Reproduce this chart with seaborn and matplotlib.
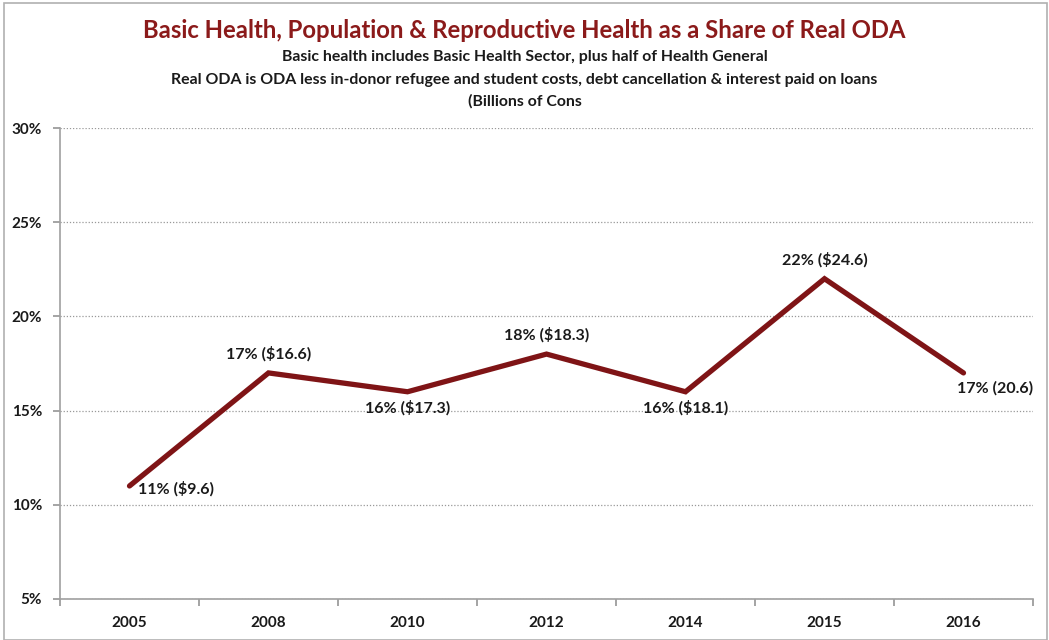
import matplotlib
matplotlib.use("Agg")
import matplotlib.pyplot as plt
import seaborn as sns
import pandas as pd
from matplotlib.patches import Rectangle

years = ["2005", "2008", "2010", "2012", "2014", "2015", "2016"]
share = [11, 17, 16, 18, 16, 22, 17]
labels = ["11% ($9.6)", "17% ($16.6)", "16% ($17.3)", "18% ($18.3)",
          "16% ($18.1)", "22% ($24.6)", "17% (20.6)"]
yticks = [5, 10, 15, 20, 25, 30]

sns.set_theme(style="white")
plt.rcParams["font.family"] = ["Lato", "DejaVu Sans"]
plt.rcParams["font.weight"] = "bold"

fig = plt.figure(figsize=(10.49, 6.40), dpi=100)
ax = fig.add_axes([60/1049, 1-599/640, (1033-60)/1049, (599-128)/640])

df = pd.DataFrame({"pos": range(len(years)), "share": share})
sns.lineplot(data=df, x="pos", y="share", ax=ax, color="#7f1416", linewidth=3.8,
             solid_capstyle="round", solid_joinstyle="miter")

ax.set_xlim(-0.5, len(years) - 0.5)
ax.set_ylim(5, 30)
ax.set_yticks(yticks)
ax.set_yticklabels([f"{v}%" for v in yticks], fontsize=11, fontweight="bold", color="#1a1a1a")
ax.set_xticks([i - 0.5 for i in range(len(years) + 1)])
ax.set_xticklabels([])
ax.set_xticks(list(range(len(years))), minor=True)
ax.set_xticklabels(years, minor=True, fontsize=11, fontweight="bold", color="#1a1a1a")
ax.tick_params(axis="x", which="major", direction="out", length=5, color="#999999", bottom=True)
ax.tick_params(axis="x", which="minor", length=0, pad=12)
ax.tick_params(axis="y", direction="out", length=5, color="#999999", left=True, pad=8)
ax.set_xlabel("")
ax.set_ylabel("")
ax.grid(axis="y", linestyle=(0, (1, 1.5)), color="#999999", linewidth=0.9)
ax.grid(axis="x", visible=False)
for s in ["top", "right"]:
    ax.spines[s].set_visible(False)
for s in ["left", "bottom"]:
    ax.spines[s].set_color("#a0a0a0")
    ax.spines[s].set_linewidth(1.2)

# data labels: (dx points, dy points, ha, va)
offsets = [(6, -2, "left", "center"), (0, 8, "center", "bottom"), (0, -6, "center", "top"),
           (0, 8, "center", "bottom"), (0, -6, "center", "top"), (0, 8, "center", "bottom"),
           (23, -6, "center", "top")]
for i, (v, lab) in enumerate(zip(share, labels)):
    dx, dy, ha, va = offsets[i]
    ax.annotate(lab, (i, v), xytext=(dx, dy), textcoords="offset points",
                ha=ha, va=va, fontsize=11.5, fontweight="bold", color="#1a1a1a")

fig.text(0.5, 1-30/640, "Basic Health, Population & Reproductive Health as a Share of Real ODA",
         ha="center", va="center", fontsize=17.2, fontweight="bold", color="#8b1a1a")
fig.text(0.5, 1-57/640, "Basic health includes Basic Health Sector, plus half of Health General",
         ha="center", va="center", fontsize=11.4, fontweight="bold", color="#1a1a1a")
fig.text(0.5, 1-80/640, "Real ODA is ODA less in-donor refugee and student costs, debt cancellation & interest paid on loans",
         ha="center", va="center", fontsize=11.4, fontweight="bold", color="#1a1a1a")
fig.text(0.5, 1-101/640, "(Billions of Cons",
         ha="center", va="center", fontsize=11.4, fontweight="bold", color="#1a1a1a")

fig.patches.append(Rectangle((4/1049, 0), 1043/1049, 1-3/640, transform=fig.transFigure,
                             fill=False, edgecolor="#b0b0b0", linewidth=1.2))

fig.savefig("out.png", dpi=100)
